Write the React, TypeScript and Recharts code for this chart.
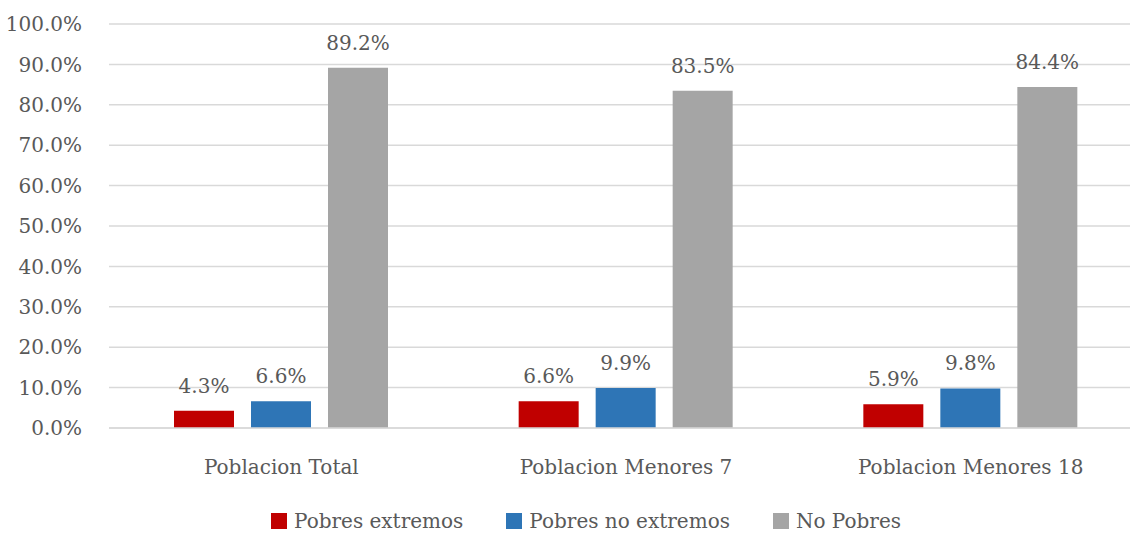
import React from 'react';
import { BarChart, Bar, XAxis, YAxis, CartesianGrid, Legend, LabelList } from 'recharts';

// Categories and series values (share of population)
const categories = ['Poblacion Total', 'Poblacion Menores 7', 'Poblacion Menores 18'];
const pobresExtremos = [0.043, 0.066, 0.059];
const pobresNoExtremos = [0.066, 0.099, 0.098];
const noPobres = [0.892, 0.835, 0.844];
const yTicks = [0, 0.1, 0.2, 0.3, 0.4, 0.5, 0.6, 0.7, 0.8, 0.9, 1.0];

const series = [
  { key: 'extremos', name: 'Pobres extremos', color: '#C00000', values: pobresExtremos },
  { key: 'noExtremos', name: 'Pobres no extremos', color: '#2E75B6', values: pobresNoExtremos },
  { key: 'noPobres', name: 'No Pobres', color: '#A5A5A5', values: noPobres },
];

const data = categories.map((name, i) => {
  const row: Record<string, any> = { name };
  series.forEach(s => { row[s.key] = s.values[i]; });
  return row;
});

const FONT = '"DejaVu Serif", serif';
const SIZE = 20;
const TEXT = '#595959';
const pct = (v: number) => `${(v * 100).toFixed(1)}%`;

// legend sits on its own row under the category labels
const LegendContent: React.FC = () => (
  <div style={{ height: 65, display: 'flex', alignItems: 'flex-start', paddingTop: 43, paddingLeft: 271, boxSizing: 'border-box', fontFamily: FONT, fontSize: SIZE, color: TEXT }}>
    {series.map((s, i) => (
      <div key={s.key} style={{ display: 'flex', alignItems: 'center', height: 20, lineHeight: '20px', marginLeft: i === 0 ? 0 : 43, whiteSpace: 'nowrap' }}>
        <div style={{ width: 16, height: 16, background: s.color, marginRight: 7 }} />
        <span>{s.name}</span>
      </div>
    ))}
  </div>
);

export default function App() {
  return (
    <div style={{ position: 'absolute', left: 0, top: 0, width: 1130, height: 533, overflow: 'hidden', background: '#fff' }}>
      <BarChart
        width={1143}
        height={533}
        data={data}
        margin={{ top: 24, right: 0, left: 0, bottom: 0 }}
        barSize={60}
        barGap={17}
      >
        <CartesianGrid vertical={false} stroke="#D9D9D9" strokeWidth={1.5} />
        <XAxis
          dataKey="name"
          height={40}
          tickLine={false}
          tickSize={0}
          tickMargin={32}
          axisLine={{ stroke: '#D9D9D9', strokeWidth: 1.5 }}
          tick={{ fill: TEXT, fontSize: SIZE, fontFamily: FONT }}
        />
        <YAxis
          width={109}
          domain={[0, 1]}
          ticks={yTicks}
          interval={0}
          axisLine={false}
          tickLine={false}
          tickSize={0}
          tickMargin={27}
          tickFormatter={pct}
          tick={{ fill: TEXT, fontSize: SIZE, fontFamily: FONT }}
        />
        <Legend verticalAlign="bottom" content={<LegendContent />} />
        {series.map(s => (
          <Bar key={s.key} dataKey={s.key} name={s.name} fill={s.color} isAnimationActive={false}>
            <LabelList
              dataKey={s.key}
              position="top"
              offset={18}
              formatter={(v: any) => pct(Number(v))}
              style={{ fill: TEXT, fontSize: SIZE, fontFamily: FONT }}
            />
          </Bar>
        ))}
      </BarChart>
    </div>
  );
}
